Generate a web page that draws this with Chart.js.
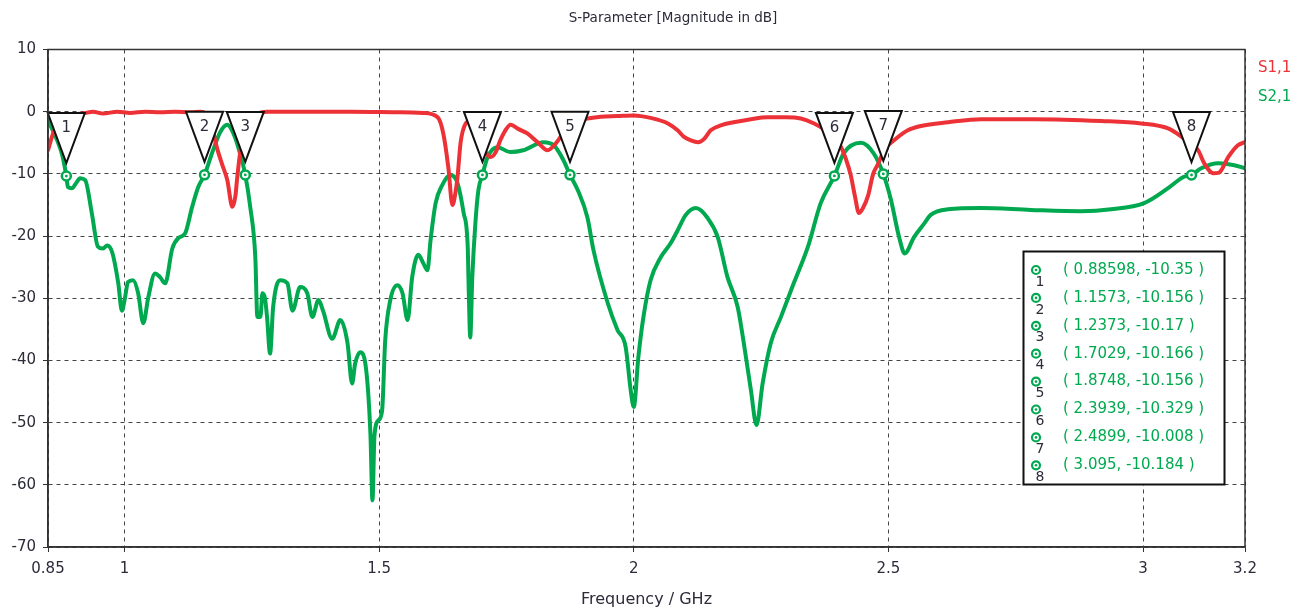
<!DOCTYPE html>
<html>
<head>
<meta charset="utf-8">
<script src="https://cdn.jsdelivr.net/npm/chart.js@4.4.1/dist/chart.umd.min.js"></script>
<style>
  html, body { margin: 0; padding: 0; background: #ffffff; }
  #wrap { width: 1309px; height: 612px; position: relative; }
</style>
</head>
<body>
<div id="wrap"><canvas id="c" width="1309" height="612"></canvas></div>
<script>
// S1,1 (reflection) sweep, frequency in GHz / magnitude in dB
const s11Freq = [0.850,0.860,0.870,0.883,0.903,0.919,0.938,0.958,0.986,1.011,1.041,1.070,1.100,1.129,1.149,1.163,1.172,1.182,1.192,1.202,1.212,1.218,1.221,1.227,1.233,1.243,1.257,1.280,1.345,1.444,1.542,1.587,1.615,1.626,1.636,1.644,1.650,1.654,1.660,1.670,1.679,1.695,1.709,1.719,1.729,1.738,1.748,1.758,1.774,1.791,1.811,1.831,1.846,1.866,1.886,1.909,1.935,1.968,2.000,2.033,2.067,2.086,2.098,2.112,2.126,2.139,2.151,2.171,2.196,2.230,2.263,2.299,2.328,2.354,2.377,2.393,2.407,2.416,2.426,2.434,2.442,2.450,2.460,2.470,2.479,2.493,2.511,2.538,2.564,2.617,2.682,2.786,2.918,2.996,3.049,3.075,3.094,3.108,3.120,3.138,3.149,3.167,3.186,3.200];
const s11Db = [-6.2,-3.5,-2.0,-1.0,-0.4,-0.3,0,-0.3,0,-0.2,0,-0.1,0,-0.1,0,-0.5,-2.5,-5.9,-8.5,-11,-15.3,-13.5,-11,-6.7,-3.5,-1.5,-0.5,0,0,0,-0.1,-0.2,-0.9,-3.5,-9,-15,-13,-10.5,-5,-1.9,-1.5,-4,-6.5,-7.3,-6.5,-4.6,-3,-2.1,-2.8,-3.5,-4.9,-6.2,-5.2,-3,-1.5,-1.1,-0.8,-0.7,-0.6,-1.0,-1.9,-3,-4,-4.6,-4.9,-4.3,-3,-2.2,-1.7,-1.2,-0.9,-0.9,-1.1,-1.9,-3,-4,-5.7,-7.5,-10.2,-13.5,-16.3,-15.5,-13.5,-10,-8.5,-6,-4.6,-3,-2.3,-1.7,-1.2,-1.2,-1.5,-1.9,-2.7,-4,-5.2,-6.2,-8.3,-9.9,-9.8,-7.3,-5.4,-4.9];

// S2,1 (transmission) sweep
const s21Freq = [0.850,0.868,0.878,0.886,0.889,0.897,0.905,0.913,0.923,0.936,0.948,0.958,0.966,0.976,0.988,0.995,1.001,1.007,1.017,1.027,1.037,1.047,1.060,1.070,1.080,1.094,1.106,1.119,1.133,1.145,1.1573,1.174,1.188,1.202,1.214,1.227,1.2373,1.247,1.257,1.261,1.267,1.271,1.276,1.280,1.286,1.292,1.306,1.320,1.330,1.345,1.359,1.369,1.381,1.390,1.408,1.424,1.438,1.447,1.453,1.463,1.473,1.483,1.487,1.491,1.499,1.506,1.512,1.522,1.536,1.546,1.556,1.565,1.577,1.587,1.595,1.601,1.611,1.624,1.640,1.654,1.666,1.674,1.676,1.679,1.683,1.689,1.695,1.7029,1.713,1.732,1.758,1.783,1.823,1.843,1.862,1.8748,1.890,1.909,1.921,1.949,1.968,1.984,1.994,2.000,2.009,2.019,2.033,2.053,2.072,2.086,2.102,2.122,2.145,2.165,2.184,2.204,2.216,2.230,2.241,2.253,2.269,2.289,2.314,2.342,2.367,2.3939,2.412,2.446,2.471,2.4899,2.505,2.521,2.532,2.550,2.570,2.583,2.617,2.682,2.780,2.878,2.937,3.002,3.049,3.079,3.095,3.114,3.148,3.179,3.200];
const s21Db = [-1.4,-4.6,-7,-10.35,-12.1,-12.3,-11.5,-10.7,-11,-16.3,-21.7,-22,-21.5,-22.6,-27.6,-32,-30,-27.4,-27.1,-29.2,-34,-29.8,-26,-26.6,-27.6,-22,-20.3,-19.6,-15.3,-12.1,-10.156,-6.2,-3.3,-2.1,-3.5,-6.7,-10.17,-15.3,-23.4,-33,-33,-29.2,-30,-33,-38.9,-31.4,-27.1,-27.6,-32,-28.2,-29.2,-33,-30.3,-32,-36.5,-33.5,-37.2,-43.7,-40.5,-38.7,-40.5,-51.8,-62.5,-52,-49.6,-48,-36.8,-30.3,-27.9,-29.2,-33.5,-26.6,-23,-24.4,-25.5,-20.7,-14.7,-11.8,-10.2,-11.5,-16.3,-21.7,-28.7,-36.3,-26.6,-18,-12.6,-10.166,-7.3,-5.7,-6.5,-6.2,-4.9,-5.4,-7.8,-10.156,-12.6,-17,-22.3,-30.8,-35.1,-37.8,-44.8,-47.5,-39.5,-33,-27.1,-23.4,-21.2,-19.1,-16.6,-15.5,-17.1,-20.2,-26.6,-31.4,-37.2,-44.8,-50.4,-43.7,-37.2,-33,-27.6,-21.7,-14.7,-10.329,-6.7,-5,-6.7,-10.008,-14.2,-20.2,-22.8,-20.2,-18,-16.6,-15.7,-15.5,-15.8,-16.0,-15.7,-14.7,-12.3,-10.5,-10.184,-9.1,-8.3,-8.6,-9.1];

// Curve markers placed on S2,1
const markerFreq = [0.88598, 1.1573, 1.2373, 1.7029, 1.8748, 2.3939, 2.4899, 3.095];
const markerDb = [-10.35, -10.156, -10.17, -10.166, -10.156, -10.329, -10.008, -10.184];

// Axis ticks
const xTicks = [0.85, 1, 1.5, 2, 2.5, 3, 3.2];
const yTicks = [10, 0, -10, -20, -30, -40, -50, -60, -70];

const chartTitle = 'S-Parameter [Magnitude in dB]';
const seriesNames = ['S1,1', 'S2,1'];
const RED = '#ec3237';
const GREEN = '#00a94f';
const INK = '#2b2b3a';
const FONT = 'DejaVu Sans';

const toPoints = (xs, ys) => xs.map((x, i) => ({ x: x, y: ys[i] }));

const markerPlugin = {
  id: 'curveMarkers',
  afterDatasetsDraw(chart) {
    const { ctx, scales: { x, y } } = chart;
    ctx.save();
    markerFreq.forEach((f, i) => {
      const px = x.getPixelForValue(f);
      const py = y.getPixelForValue(markerDb[i]);
      // label triangle hanging above the marker
      const tip = py - 13;
      const top = tip - 50;
      ctx.beginPath();
      ctx.moveTo(px - 18.5, top);
      ctx.lineTo(px + 18.5, top);
      ctx.lineTo(px, tip);
      ctx.closePath();
      ctx.fillStyle = '#ffffff';
      ctx.fill();
      ctx.lineWidth = 2;
      ctx.strokeStyle = '#111111';
      ctx.lineJoin = 'miter';
      ctx.stroke();
      ctx.fillStyle = INK;
      ctx.font = '15px ' + FONT;
      ctx.textAlign = 'center';
      ctx.textBaseline = 'middle';
      ctx.fillText(String(i + 1), px, top + 15);
      // ring marker on the curve
      ctx.beginPath();
      ctx.arc(px, py, 4.5, 0, Math.PI * 2);
      ctx.fillStyle = '#ffffff';
      ctx.fill();
      ctx.lineWidth = 2.5;
      ctx.strokeStyle = GREEN;
      ctx.stroke();
      ctx.beginPath();
      ctx.arc(px, py, 1.4, 0, Math.PI * 2);
      ctx.fillStyle = GREEN;
      ctx.fill();
    });
    ctx.restore();
  },
  afterDraw(chart) {
    const { ctx, chartArea: a } = chart;
    ctx.save();
    // plot frame
    ctx.strokeStyle = '#333333';
    ctx.lineWidth = 1.5;
    ctx.strokeRect(a.left, a.top, a.right - a.left, a.bottom - a.top);

    // title
    ctx.font = '13.5px ' + FONT;
    ctx.fillStyle = INK;
    ctx.textAlign = 'center';
    ctx.textBaseline = 'middle';
    ctx.fillText(chartTitle, 673, 18);

    // series names to the right of the plot
    ctx.font = '15px ' + FONT;
    ctx.textAlign = 'left';
    ctx.textBaseline = 'middle';
    ctx.fillStyle = RED;
    ctx.fillText(seriesNames[0], a.right + 13, 68);
    ctx.fillStyle = GREEN;
    ctx.fillText(seriesNames[1], a.right + 13, 97);

    // marker readout table
    const bx = 1023.5, by = 251.5, bw = 201, bh = 233;
    ctx.fillStyle = '#ffffff';
    ctx.fillRect(bx, by, bw, bh);
    ctx.lineWidth = 2;
    ctx.strokeStyle = '#111111';
    ctx.strokeRect(bx, by, bw, bh);
    markerFreq.forEach((f, i) => {
      const ry = 270 + i * 27.9;
      ctx.beginPath();
      ctx.arc(1036, ry, 4, 0, Math.PI * 2);
      ctx.lineWidth = 2.2;
      ctx.strokeStyle = GREEN;
      ctx.stroke();
      ctx.beginPath();
      ctx.arc(1036, ry, 1.3, 0, Math.PI * 2);
      ctx.fillStyle = GREEN;
      ctx.fill();
      ctx.fillStyle = INK;
      ctx.font = '14px ' + FONT;
      ctx.textAlign = 'center';
      ctx.fillText(String(i + 1), 1040, ry + 12);
      ctx.fillStyle = GREEN;
      ctx.font = '15px ' + FONT;
      ctx.textAlign = 'left';
      ctx.fillText('( ' + f + ', ' + markerDb[i] + ' )', 1063, ry);
    });
    ctx.restore();
  }
};

new Chart(document.getElementById('c'), {
  type: 'line',
  data: {
    datasets: [
      {
        label: seriesNames[0],
        data: toPoints(s11Freq, s11Db),
        borderColor: RED,
        borderWidth: 4,
        pointRadius: 0,
        cubicInterpolationMode: 'monotone',
        borderJoinStyle: 'round',
        borderCapStyle: 'round',
        fill: false
      },
      {
        label: seriesNames[1],
        data: toPoints(s21Freq, s21Db),
        borderColor: GREEN,
        borderWidth: 4,
        pointRadius: 0,
        cubicInterpolationMode: 'monotone',
        borderJoinStyle: 'round',
        borderCapStyle: 'round',
        fill: false
      }
    ]
  },
  options: {
    responsive: false,
    animation: false,
    devicePixelRatio: 1,
    layout: { padding: { left: 0, right: 64, top: 49.5, bottom: 0 } },
    plugins: {
      legend: { display: false },
      tooltip: { enabled: false },
      title: { display: false }
    },
    scales: {
      x: {
        type: 'linear',
        min: 0.85,
        max: 3.2,
        afterBuildTicks: (s) => { s.ticks = xTicks.map(v => ({ value: v })); },
        afterFit: (s) => { s.height = 65; },
        ticks: {
          autoSkip: false,
          maxRotation: 0,
          padding: 8,
          color: INK,
          font: { family: FONT, size: 15 },
          callback: (v) => String(v)
        },
        grid: { color: '#444444', lineWidth: 1, tickLength: 5, tickColor: '#333333' },
        border: { display: true, color: '#333333', width: 1.5, dash: [4, 4] },
        title: {
          display: true,
          text: 'Frequency / GHz',
          color: INK,
          font: { family: FONT, size: 16 },
          padding: { top: 0, bottom: 3 }
        }
      },
      y: {
        type: 'linear',
        min: -70,
        max: 10,
        afterBuildTicks: (s) => { s.ticks = yTicks.map(v => ({ value: v })); },
        afterFit: (s) => { s.width = 48; },
        ticks: {
          padding: 7,
          color: INK,
          font: { family: FONT, size: 15 },
          callback: (v) => String(v)
        },
        grid: { color: '#444444', lineWidth: 1, tickLength: 5, tickColor: '#333333' },
        border: { display: true, color: '#333333', width: 1.5, dash: [4, 4] }
      }
    }
  },
  plugins: [markerPlugin]
});
</script>
</body>
</html>
